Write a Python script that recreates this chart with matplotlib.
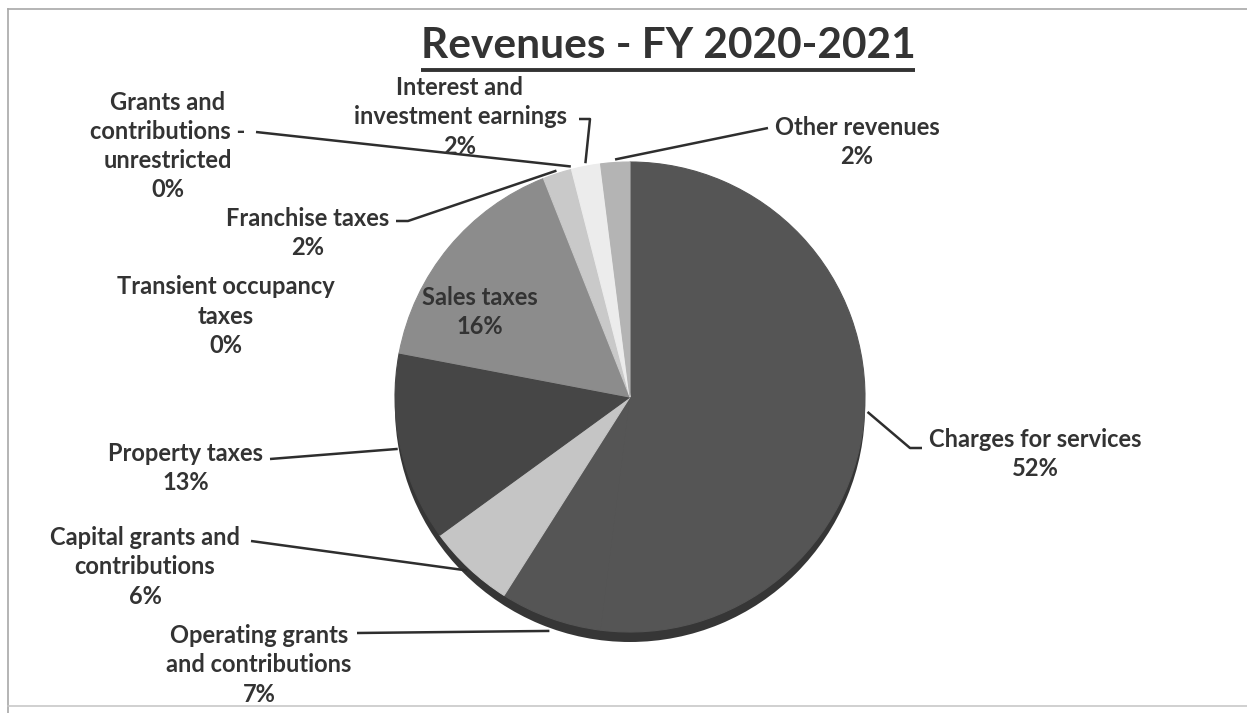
import matplotlib
matplotlib.use("Agg")
import matplotlib.pyplot as plt
import numpy as np

# ---- data -------------------------------------------------------------
categories = [
    "Charges for services",
    "Operating grants\nand contributions",
    "Capital grants and\ncontributions",
    "Property taxes",
    "Transient occupancy\ntaxes",
    "Sales taxes",
    "Franchise taxes",
    "Grants and\ncontributions -\nunrestricted",
    "Interest and\ninvestment earnings",
    "Other revenues",
]
shares = [52, 7, 6, 13, 0, 16, 2, 0, 2, 2]
title_text = "Revenues - FY 2020-2021"

# ---- style ------------------------------------------------------------
slice_colors = ["#555555", "#555555", "#c5c5c5", "#464646", "#6a6a6a",
                "#8c8c8c", "#c9c9c9", "#d8d8d8", "#ececec", "#b4b4b4"]
side_color = "#363636"
text_color = "#333333"
FONT = ["Lato", "DejaVu Sans"]

W, H = 1247, 713
fig = plt.figure(figsize=(W / 100, H / 100), dpi=100)
ax = fig.add_axes([0, 0, 1, 1])


def P(x, y):
    """Convert top-left based pixel layout positions to axes data coords."""
    return x, H - y


cx, cy = P(630, 397)
radius = 235
depth = 10

# extruded side of the pie
ax.pie([1], colors=[side_color], startangle=90, counterclock=False,
       center=(cx, cy - depth), radius=radius,
       wedgeprops=dict(linewidth=0))
# top face
wedges, _ = ax.pie(shares, colors=slice_colors, startangle=90,
                   counterclock=False, center=(cx, cy), radius=radius,
                   wedgeprops=dict(linewidth=0.8))
for w in wedges:
    # outline each wedge in its own colour so neighbours meet without a seam
    w.set_edgecolor(w.get_facecolor())

ax.set_xlim(0, W)
ax.set_ylim(0, H)
ax.set_aspect("equal")
ax.axis("off")

# label placement: text block centre, leader start, optional elbow
layout = {
    0: dict(xy=(1035, 454), start=(922, 448), elbow=(910, 448)),
    1: dict(xy=(259, 665), start=(357, 633), elbow=None),
    2: dict(xy=(145, 567), start=(251, 541), elbow=None),
    3: dict(xy=(186, 468), start=(270, 459), elbow=None),
    4: dict(xy=(226, 316), start=None, elbow=None),
    5: dict(xy=(480, 312), start=None, elbow=None),
    6: dict(xy=(308, 233), start=(396, 221), elbow=(408, 221)),
    7: dict(xy=(168, 146), start=(256, 132), elbow=None),
    8: dict(xy=(460, 117), start=(579, 119), elbow=(590, 119)),
    9: dict(xy=(857, 142), start=(768, 128), elbow=None),
}

total = float(sum(shares))
cum = 0.0
for i, (name, val) in enumerate(zip(categories, shares)):
    mid = cum + val / 2.0
    cum += val
    theta = np.deg2rad(90.0 - 360.0 * mid / total)
    ex = cx + (radius + 3) * np.cos(theta)
    ey = cy + (radius + 3) * np.sin(theta)
    if i == 1:
        ey -= depth
    spec = layout[i]
    tx, ty = P(*spec["xy"])
    ax.text(tx, ty, f"{name}\n{val}%", ha="center", va="center",
            fontsize=17, fontweight="bold", color=text_color,
            family=FONT, linespacing=1.33)
    if spec["start"] is not None:
        pts = [P(*spec["start"])]
        if spec["elbow"] is not None:
            pts.append(P(*spec["elbow"]))
        pts.append((ex, ey))
        xs, ys = zip(*pts)
        ax.plot(xs, ys, color="#2e2e2e", lw=1.8, solid_capstyle="butt")

# title with underline
tt = ax.text(*P(668, 46), title_text, ha="center", va="center",
             fontsize=30.5, fontweight="bold", color=text_color, family=FONT)
fig.canvas.draw()
bb = tt.get_window_extent().transformed(ax.transData.inverted())
uy = H - 70
ax.plot([bb.x0, bb.x1], [uy, uy], color=text_color, lw=2.8,
        solid_capstyle="butt")

# chart frame
ax.plot([8, W], [H - 9, H - 9], color="#a8a8a8", lw=1.2)
ax.plot([8, 8], [H - 9, 0], color="#a8a8a8", lw=1.2)
ax.plot([8, W], [H - 706, H - 706], color="#c8c8c8", lw=1.2)

fig.savefig("out.png", dpi=100)
